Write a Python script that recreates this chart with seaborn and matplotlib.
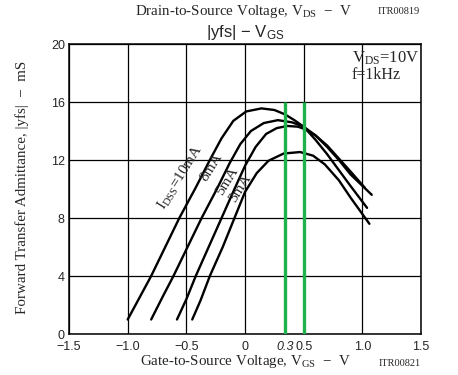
import numpy as np
import pandas as pd
import matplotlib
matplotlib.use("Agg")
import matplotlib.pyplot as plt
import seaborn as sns

# ---- data ----
vgs_10mA = [-1.0, -0.9, -0.8, -0.68, -0.56, -0.42, -0.3, -0.2, -0.1, 0.01, 0.14, 0.25, 0.34, 0.42, 0.5, 0.6, 0.7, 0.8, 0.9, 1.04]
yfs_10mA = [1.0, 2.5, 4.0, 6.0, 8.0, 10.1, 12.0, 13.5, 14.7, 15.35, 15.56, 15.45, 15.15, 14.75, 14.3, 13.4, 12.4, 11.3, 10.2, 8.7]

vgs_8mA = [-0.8, -0.7, -0.61, -0.49, -0.37, -0.24, -0.13, -0.04, 0.05, 0.16, 0.28, 0.4, 0.5, 0.6, 0.7, 0.8, 0.9, 1.08]
yfs_8mA = [1.0, 2.6, 4.0, 6.0, 8.0, 10.0, 11.8, 13.1, 14.0, 14.55, 14.75, 14.6, 14.3, 13.7, 12.9, 12.0, 11.0, 9.6]

vgs_5mA = [-0.58, -0.5, -0.42, -0.31, -0.2, -0.09, 0.0, 0.09, 0.18, 0.27, 0.36, 0.45, 0.52, 0.6, 0.7, 0.8, 0.9, 1.02]
yfs_5mA = [1.0, 2.4, 4.0, 6.0, 8.0, 10.0, 11.6, 12.9, 13.8, 14.2, 14.35, 14.3, 14.1, 13.7, 13.0, 12.1, 11.2, 10.1]

vgs_3mA = [-0.45, -0.38, -0.3, -0.19, -0.09, 0.0, 0.1, 0.2, 0.33, 0.47, 0.58, 0.68, 0.8, 0.9, 1.06]
yfs_3mA = [1.0, 2.3, 4.0, 6.0, 8.0, 9.8, 11.1, 11.95, 12.45, 12.55, 12.3, 11.7, 10.6, 9.4, 7.6]

idss_names = ["10mA", "8mA", "5mA", "3mA"]
green_vgs = [0.34, 0.5]
green_top = 16
xticks = [-1.5, -1.0, -0.5, 0, 0.5, 1.0, 1.5]
xtick_labels = ["\u22121.5", "\u22121.0", "\u22120.5", "0", "0.5", "1.0", "1.5"]
yticks = [0, 4, 8, 12, 16, 20]

# label placement (x, y) for the curve annotations
label_pos = {"10mA": (-0.545, 10.83), "8mA": (-0.285, 11.5), "5mA": (-0.155, 10.56), "3mA": (-0.04, 10.05)}
label_text = {"10mA": r"I$_{\rm DSS}$=10mA", "8mA": "8mA", "5mA": "5mA", "3mA": "3mA"}

# ---- style ----
sns.set_style("white")
plt.rcParams['font.family'] = ['Liberation Sans', 'DejaVu Sans']
plt.rcParams['mathtext.fontset'] = 'custom'
plt.rcParams['mathtext.rm'] = 'Liberation Serif'
plt.rcParams['mathtext.sf'] = 'Liberation Sans'
plt.rcParams['mathtext.it'] = 'Liberation Serif:italic'

frames = []
for name, xs, ys in zip(idss_names,
                        [vgs_10mA, vgs_8mA, vgs_5mA, vgs_3mA],
                        [yfs_10mA, yfs_8mA, yfs_5mA, yfs_3mA]):
    frames.append(pd.DataFrame({"vgs": xs, "yfs": ys, "idss": name}))
df = pd.concat(frames, ignore_index=True)

fig = plt.figure(figsize=(4.58, 3.75), dpi=100)
ax = fig.add_axes([0.1507, 0.1093, 0.7686, 0.7733])

sns.lineplot(data=df, x="vgs", y="yfs", hue="idss", palette=["black"] * 4,
             sort=False, estimator=None, lw=1.7, legend=False, ax=ax, zorder=3)
for ln in ax.lines:
    ln.set_solid_joinstyle("round")
    ln.set_solid_capstyle("round")
ax.vlines(green_vgs, 0, green_top, color="#1fb14a", lw=2.4, zorder=4)

ax.set_xlim(-1.5, 1.5)
ax.set_ylim(0, 20)
ax.set_xticks(xticks)
ax.set_xticklabels(xtick_labels)
ax.set_yticks(yticks)
ax.tick_params(axis="x", labelsize=9, length=0, pad=5)
ax.tick_params(axis="y", labelsize=9, length=0, pad=3)
ax.grid(True, color="black", lw=0.9)
ax.set_xlabel("")
ax.set_ylabel("")
for s in ax.spines.values():
    s.set_color("black")
    s.set_linewidth(1.1)

# italic 0.3 marker label
ax.text(0.34, -0.5, "0.3", transform=ax.transData, ha="center", va="top",
        fontsize=9, style="italic")

for name in idss_names:
    x, y = label_pos[name]
    ax.text(x, y, label_text[name], rotation=58, ha="center", va="center",
            fontsize=11, family="Liberation Serif", zorder=5)

ax.text(0.803, 0.952, r"V$_{\rm DS}$=10V", transform=ax.transAxes, fontsize=12,
        family="Liberation Serif", va="center", ha="left")
ax.text(0.803, 0.893, "f=1kHz", transform=ax.transAxes, fontsize=11.5,
        family="Liberation Serif", va="center", ha="left")

minus = "\u2212"
# titles and axis labels
fig.text(244 / 458, 1 - 12 / 375, r"Drain-to-Source Voltage, V$_{\rm DS}$  " + minus + "  V",
         ha="center", va="center", fontsize=10.8, family="Liberation Serif")
fig.text(420 / 458, 1 - 12 / 375, "ITR00819", ha="right", va="center",
         fontsize=7.5, family="Liberation Serif")
fig.text(245 / 458, 1 - 32 / 375, "|yfs| " + minus + r" V$_{\mathsf{GS}}$",
         ha="center", va="center", fontsize=12, family="Liberation Sans")
fig.text(246 / 458, 1 - 362 / 375, r"Gate-to-Source Voltage, V$_{\rm GS}$  " + minus + "  V",
         ha="center", va="center", fontsize=10.8, family="Liberation Serif")
fig.text(421 / 458, 1 - 363 / 375, "ITR00821", ha="right", va="center",
         fontsize=7.5, family="Liberation Serif")
fig.text(22 / 458, 1 - 187 / 375, "Forward Transfer Admittance, |yfs|  " + minus + "  mS",
         ha="center", va="center", rotation=90, fontsize=10.8, family="Liberation Serif")

fig.savefig("out.png", dpi=100)
